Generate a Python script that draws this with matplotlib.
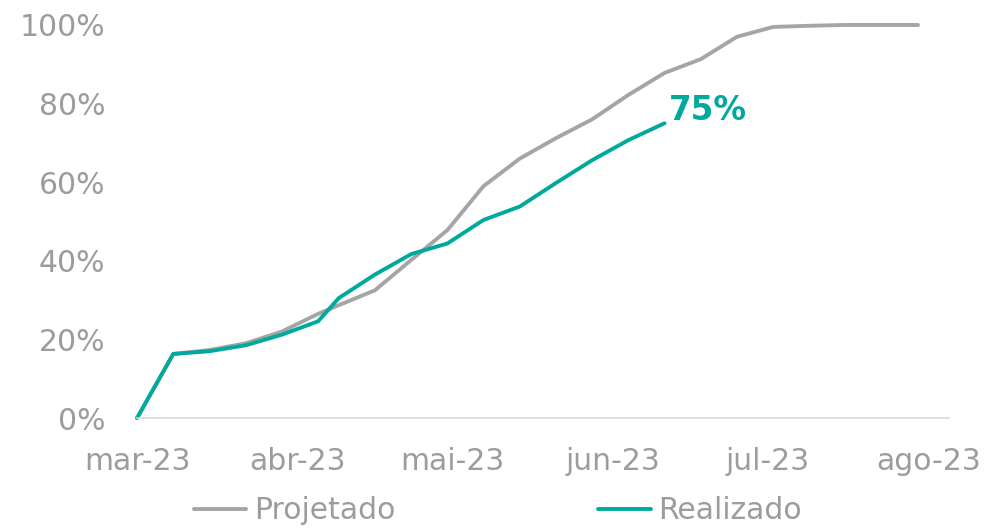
import matplotlib
matplotlib.use("Agg")
import matplotlib.pyplot as plt
import numpy as np
import pandas as pd

# weekly measurement dates
dates = pd.to_datetime([
    "2023-03-01", "2023-03-08", "2023-03-15", "2023-03-22", "2023-03-29",
    "2023-04-05", "2023-04-09", "2023-04-16", "2023-04-23", "2023-04-30",
    "2023-05-07", "2023-05-14", "2023-05-21", "2023-05-28", "2023-06-04",
    "2023-06-11", "2023-06-18", "2023-06-25", "2023-07-02", "2023-07-09",
    "2023-07-16", "2023-07-23", "2023-07-30",
])

projetado = [0, 16.3, 17.3, 19.0, 22.0, 26.5, 28.7, 32.5, 40.2, 47.8,
             59.0, 66.0, 71.2, 76.0, 82.2, 87.8, 91.3, 97.0, 99.5, 99.8,
             100, 100, 100]

realizado = [0, 16.3, 17.0, 18.5, 21.2, 24.6, 30.5, 36.5, 41.7, 44.4,
             50.4, 53.8, 59.8, 65.6, 70.7, 75.0]

month_ticks = pd.to_datetime(["2023-03-01", "2023-04-01", "2023-05-01",
                              "2023-06-01", "2023-07-01", "2023-08-01"])
month_labels = ["mar-23", "abr-23", "mai-23", "jun-23", "jul-23", "ago-23"]

y_ticks = [0, 20, 40, 60, 80, 100]

GRAY = "#A5A5A5"
TEAL = "#00A99D"
TEXT = "#9C9C9C"

fig = plt.figure(figsize=(9.86, 5.28), dpi=100)
ax = fig.add_axes([0.139, 0.2083, 0.8235, 0.7444])

ax.plot(dates, projetado, color=GRAY, lw=2.8, label="Projetado",
        solid_capstyle="round", clip_on=False)
ax.plot(dates[:len(realizado)], realizado, color=TEAL, lw=2.8,
        label="Realizado", solid_capstyle="round", clip_on=False)

# last realised value label
ax.annotate(f"{realizado[-1]:.0f}%", xy=(dates[len(realizado) - 1], realizado[-1]),
            xytext=(3, 2), textcoords="offset points", ha="left", va="baseline",
            color=TEAL, fontsize=23.5, fontweight="bold")

ax.set_xlim(pd.Timestamp("2023-03-01"), pd.Timestamp("2023-08-05"))
ax.set_ylim(0, 100)

ax.set_xticks(month_ticks)
ax.set_xticklabels(month_labels)
ax.set_yticks(y_ticks)
ax.set_yticklabels([f"{v}%" for v in y_ticks])

ax.tick_params(axis="x", length=0, pad=21, labelsize=21.5, labelcolor=TEXT)
ax.tick_params(axis="y", length=0, pad=23, labelsize=21.5, labelcolor=TEXT)

for side in ["top", "right", "left"]:
    ax.spines[side].set_visible(False)
ax.spines["bottom"].set_color("#D9D9D9")
ax.spines["bottom"].set_linewidth(1.2)

leg = fig.legend(loc="center", bbox_to_anchor=(0.505, 0.033), ncol=2,
                 frameon=False, fontsize=21.5, handlelength=1.75,
                 handletextpad=0.25, columnspacing=6.8)
for t in leg.get_texts():
    t.set_color(TEXT)

fig.savefig("out.png", dpi=100)
